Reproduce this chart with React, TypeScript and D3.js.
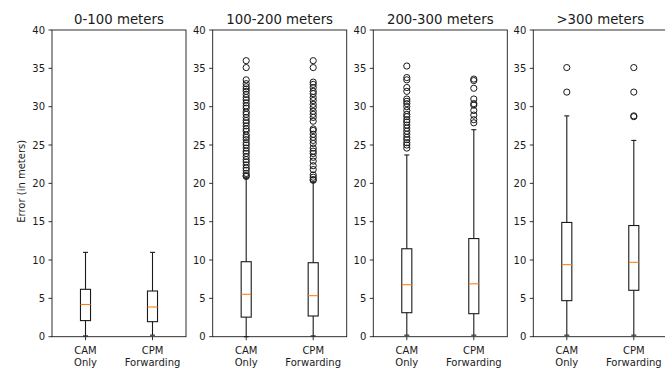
import React from "react";
import { scaleLinear, range } from "d3";

const panelTitles = ["0-100 meters", "100-200 meters", "200-300 meters", ">300 meters"];
const categories = [["CAM", "Only"], ["CPM", "Forwarding"]];
const yTicks = [0, 5, 10, 15, 20, 25, 30, 35, 40];

// [panel][category]
const whiskerLow = [[0.1, 0.2], [0.0, 0.1], [0.2, 0.2], [0.2, 0.2]];
const q1 = [[2.1, 1.96], [2.55, 2.7], [3.13, 3.0], [4.7, 6.05]];
const medians = [[4.2, 3.87], [5.53, 5.35], [6.78, 6.9], [9.4, 9.7]];
const q3 = [[6.18, 5.96], [9.78, 9.65], [11.47, 12.8], [14.9, 14.5]];
const whiskerHigh = [[11.0, 11.0], [20.8, 20.2], [23.7, 27.0], [28.8, 25.6]];
const outliers = [
  [[], []],
  [
    [36.0, 35.1, 33.5, 33.0, 32.6, 32.3, 32.0, 31.6, 31.2, 30.9, 30.5, 30.1, 29.8, 29.3, 29.0, 28.6, 28.2, 27.9, 27.5, 27.1, 26.8, 26.3, 26.0, 25.7, 25.3, 25.0, 24.6, 24.2, 23.9, 23.5, 23.1, 22.8, 22.4, 22.0, 21.7, 21.3, 21.0, 20.9],
    [36.0, 35.1, 33.2, 32.9, 32.5, 32.0, 31.7, 31.2, 30.8, 30.3, 29.9, 29.4, 29.0, 28.6, 28.1, 27.1, 26.9, 26.4, 26.0, 25.6, 25.2, 24.6, 24.2, 23.9, 23.4, 22.9, 22.3, 21.8, 21.1, 20.8, 20.5, 20.4],
  ],
  [
    [35.3, 33.8, 33.5, 32.5, 32.0, 31.0, 30.7, 30.4, 30.0, 29.5, 29.0, 28.7, 28.3, 28.0, 27.6, 27.2, 26.8, 26.4, 26.0, 25.7, 25.3, 25.0, 24.6],
    [33.6, 33.4, 32.4, 31.0, 30.4, 30.2, 29.5, 28.9, 28.3, 27.9],
  ],
  [
    [35.1, 31.9],
    [35.1, 31.9, 28.8, 28.7],
  ],
];

const panelLeft = [52, 212.7, 373.3, 533.3];
const panelWidth = 134;
const top = 30;
const bottom = 336.7;
const font = "DejaVu Sans, sans-serif";
const orange = "#ff7f0e";
const ink = "#1a1a1a";

export default function App() {
  const y = scaleLinear().domain([0, 40]).range([bottom, top]);
  return (
    <svg width={665} height={370} style={{ position: "absolute", left: 0, top: 0 }} fontFamily={font}>
      <rect width={665} height={370} fill="#fff" />
      <text transform={`translate(21,${(top + bottom) / 2 - 2}) rotate(-90)`} textAnchor="middle" dominantBaseline="central" fontSize={10} fill={ink}>
        Error (in meters)
      </text>
      {panelTitles.map((title, p) => {
        const x = scaleLinear().domain([0.5, 2.5]).range([panelLeft[p], panelLeft[p] + panelWidth]);
        const bw = x(1.15) - x(1);
        return (
          <g key={p}>
            <text x={x(1.5)} y={24} textAnchor="middle" fontSize={13.3} fill={ink}>{title}</text>
            {range(2).map((c) => {
              const cx = x(c + 1);
              return (
                <g key={c} stroke={ink} strokeWidth={1.1} fill="none">
                  <line x1={cx} x2={cx} y1={y(q1[p][c])} y2={y(whiskerLow[p][c])} />
                  <line x1={cx} x2={cx} y1={y(q3[p][c])} y2={y(whiskerHigh[p][c])} />
                  <line x1={cx - bw / 4} x2={cx + bw / 4} y1={y(whiskerLow[p][c])} y2={y(whiskerLow[p][c])} />
                  <line x1={cx - bw / 4} x2={cx + bw / 4} y1={y(whiskerHigh[p][c])} y2={y(whiskerHigh[p][c])} />
                  <rect x={cx - bw / 2} y={y(q3[p][c])} width={bw} height={y(q1[p][c]) - y(q3[p][c])} />
                  <line x1={cx - bw / 2} x2={cx + bw / 2} y1={y(medians[p][c])} y2={y(medians[p][c])} stroke={orange} />
                  {outliers[p][c].map((v, i) => (
                    <circle key={i} cx={cx} cy={y(v)} r={3.1} strokeWidth={1} />
                  ))}
                </g>
              );
            })}
            <rect x={panelLeft[p]} y={top} width={panelWidth} height={bottom - top} fill="none" stroke={ink} strokeWidth={0.9} />
            {yTicks.map((t) => (
              <g key={t}>
                <line x1={panelLeft[p] - 3.5} x2={panelLeft[p]} y1={y(t)} y2={y(t)} stroke={ink} strokeWidth={0.9} />
                <text x={panelLeft[p] - 7} y={y(t)} textAnchor="end" dominantBaseline="central" fontSize={10} fill={ink}>{t}</text>
              </g>
            ))}
            {categories.map((lines, c) => (
              <g key={c}>
                <line x1={x(c + 1)} x2={x(c + 1)} y1={bottom} y2={bottom + 3.5} stroke={ink} strokeWidth={0.9} />
                {lines.map((s, k) => (
                  <text key={k} x={x(c + 1)} y={353.5 + k * 12} textAnchor="middle" fontSize={10} fill={ink}>{s}</text>
                ))}
              </g>
            ))}
          </g>
        );
      })}
    </svg>
  );
}
